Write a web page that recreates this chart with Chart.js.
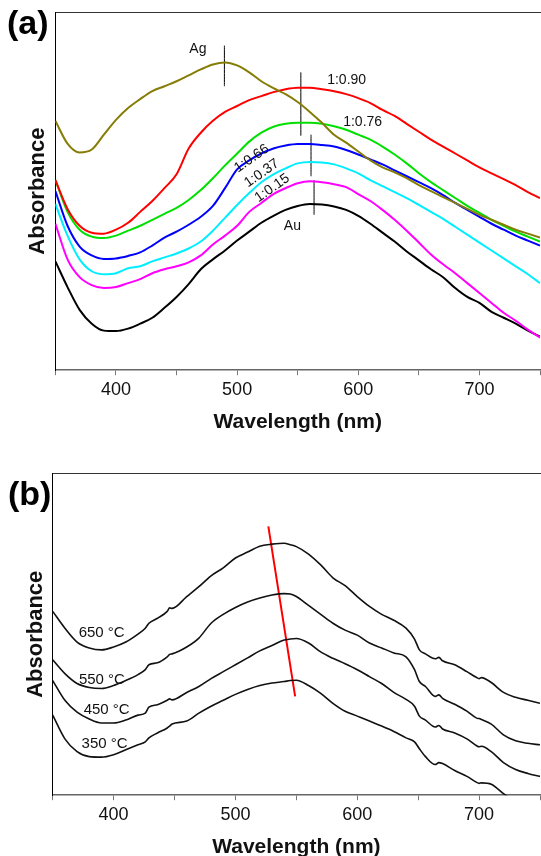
<!DOCTYPE html>
<html>
<head>
<meta charset="utf-8">
<script src="https://cdn.jsdelivr.net/npm/chart.js@4.4.0/dist/chart.umd.min.js"></script>
<style>
  html, body { margin: 0; padding: 0; background: #fff; overflow: hidden; width: 541px; height: 856px; }
  .panel { position: absolute; left: 0; width: 541px; overflow: hidden; }
  #panelA { top: 0; height: 440px; }
  #panelB { top: 450px; height: 406px; }
  .tag { position: absolute; font: bold 34px Arial, "Liberation Sans", sans-serif; line-height: 34px; color: #000; }
</style>
</head>
<body>
<div class="panel" id="panelA"><canvas id="chartA" width="544" height="436"></canvas></div>
<div class="panel" id="panelB"><canvas id="chartB" width="544" height="412"></canvas></div>
<div class="tag" style="left:7px; top:5px;">(a)</div>
<div class="tag" style="left:8px; top:476px;">(b)</div>
<script>
// ---- panel (a): Au/Ag ratio spectra ----
const waveA = [350, 360, 370, 380, 390, 400, 410, 420, 430, 440, 450, 460, 470, 480, 490, 500, 510, 520, 530, 540,
  550, 560, 570, 580, 590, 600, 610, 620, 630, 640, 650, 660, 670, 680, 690, 700, 710, 720, 730, 740, 750];

const agA = [2.52, 2.29, 2.20, 2.23, 2.38, 2.53, 2.65, 2.74, 2.82, 2.87, 2.92, 2.98, 3.04, 3.09, 3.11, 3.08, 3.01, 2.92, 2.85, 2.79,
  2.71, 2.61, 2.50, 2.38, 2.30, 2.21, 2.12, 2.05, 2.00, 1.94, 1.87, 1.81, 1.75, 1.69, 1.63, 1.57, 1.52, 1.47, 1.42, 1.38, 1.34];
const r090A = [1.92, 1.63, 1.46, 1.39, 1.38, 1.42, 1.49, 1.60, 1.71, 1.84, 1.98, 2.24, 2.40, 2.52, 2.61, 2.67, 2.73, 2.77, 2.81, 2.84,
  2.855, 2.855, 2.84, 2.82, 2.79, 2.75, 2.70, 2.63, 2.57, 2.49, 2.41, 2.33, 2.26, 2.19, 2.12, 2.05, 1.99, 1.93, 1.87, 1.80, 1.74];
const r076A = [1.92, 1.60, 1.42, 1.35, 1.335, 1.36, 1.41, 1.46, 1.52, 1.58, 1.64, 1.72, 1.82, 1.94, 2.07, 2.19, 2.31, 2.40, 2.46, 2.49,
  2.50, 2.50, 2.49, 2.465, 2.43, 2.38, 2.33, 2.26, 2.18, 2.09, 1.99, 1.90, 1.82, 1.74, 1.66, 1.59, 1.52, 1.46, 1.40, 1.35, 1.30];
const r066A = [1.81, 1.46, 1.25, 1.16, 1.125, 1.13, 1.155, 1.19, 1.26, 1.34, 1.40, 1.47, 1.55, 1.66, 1.84, 2.03, 2.12, 2.19, 2.24, 2.27,
  2.285, 2.285, 2.275, 2.26, 2.225, 2.18, 2.13, 2.08, 2.02, 1.96, 1.90, 1.84, 1.77, 1.69, 1.62, 1.55, 1.48, 1.42, 1.36, 1.31, 1.26];
const r037A = [1.68, 1.36, 1.12, 1.00, 0.97, 0.98, 1.03, 1.05, 1.10, 1.14, 1.18, 1.23, 1.30, 1.41, 1.54, 1.67, 1.79, 1.90, 1.98, 2.04,
  2.09, 2.105, 2.10, 2.08, 2.04, 1.99, 1.92, 1.86, 1.80, 1.74, 1.67, 1.60, 1.53, 1.45, 1.37, 1.29, 1.21, 1.13, 1.05, 0.97, 0.88];
const r015A = [1.48, 1.12, 0.94, 0.86, 0.83, 0.84, 0.88, 0.92, 0.98, 1.02, 1.05, 1.09, 1.16, 1.27, 1.36, 1.46, 1.60, 1.69, 1.78, 1.84,
  1.89, 1.91, 1.90, 1.88, 1.85, 1.78, 1.71, 1.62, 1.52, 1.41, 1.29, 1.17, 1.07, 0.98, 0.88, 0.78, 0.68, 0.58, 0.50, 0.41, 0.33];
const auA = [1.10, 0.84, 0.61, 0.47, 0.40, 0.395, 0.42, 0.47, 0.53, 0.63, 0.74, 0.87, 1.02, 1.12, 1.21, 1.31, 1.40, 1.49, 1.56, 1.62,
  1.66, 1.68, 1.675, 1.655, 1.62, 1.56, 1.48, 1.39, 1.30, 1.20, 1.11, 1.02, 0.94, 0.83, 0.74, 0.68, 0.59, 0.53, 0.47, 0.40, 0.34];

// peak markers (short vertical bars)
const peakWaveA = [489.5, 552.6, 561, 563.5];
const peakTopA = [3.28, 3.01, 2.38, 1.92];
const peakBottomA = [2.87, 2.37, 1.96, 1.57];

// ---- panel (b): annealing temperature spectra ----
const waveB = [350, 360, 370, 380, 390, 400, 410, 420, 426, 429, 436, 444, 446, 448, 460, 470, 480, 490, 500, 510,
  520, 530, 540, 545, 550, 560, 570, 580, 590, 600, 610, 620, 630, 640, 647, 651, 656, 664, 667, 670,
  680, 690, 698, 700, 702, 710, 720, 730, 740, 750];

const t650B = [1.86, 1.69, 1.55, 1.49, 1.47, 1.50, 1.55, 1.63, 1.69, 1.74, 1.79, 1.86, 1.895, 1.89, 2.01, 2.11, 2.22, 2.30, 2.40, 2.46,
  2.52, 2.54, 2.55, 2.535, 2.515, 2.44, 2.33, 2.20, 2.12, 2.01, 1.91, 1.83, 1.77, 1.69, 1.58, 1.47, 1.43, 1.38, 1.395, 1.36,
  1.32, 1.25, 1.19, 1.18, 1.19, 1.14, 1.04, 0.99, 0.96, 0.93];
const t550B = [1.37, 1.23, 1.13, 1.09, 1.08, 1.11, 1.16, 1.22, 1.27, 1.32, 1.34, 1.40, 1.425, 1.43, 1.50, 1.59, 1.74, 1.83, 1.90, 1.955,
  1.995, 2.025, 2.04, 2.035, 2.01, 1.92, 1.83, 1.74, 1.67, 1.62, 1.54, 1.49, 1.44, 1.40, 1.27, 1.15, 1.10, 1.00, 1.015, 0.98,
  0.92, 0.85, 0.78, 0.775, 0.765, 0.72, 0.61, 0.55, 0.525, 0.51];
const t450B = [1.16, 0.96, 0.84, 0.77, 0.73, 0.73, 0.76, 0.81, 0.83, 0.89, 0.915, 0.96, 0.975, 0.965, 1.04, 1.10, 1.18, 1.25, 1.32, 1.39,
  1.46, 1.515, 1.57, 1.58, 1.585, 1.54, 1.45, 1.385, 1.33, 1.27, 1.20, 1.13, 1.04, 0.97, 0.90, 0.80, 0.76, 0.69, 0.705, 0.67,
  0.63, 0.57, 0.50, 0.49, 0.495, 0.44, 0.33, 0.26, 0.22, 0.19];
const t350B = [0.81, 0.57, 0.44, 0.39, 0.385, 0.41, 0.46, 0.51, 0.54, 0.58, 0.63, 0.68, 0.70, 0.72, 0.75, 0.83, 0.90, 0.96, 1.02, 1.07,
  1.11, 1.135, 1.15, 1.16, 1.163, 1.11, 1.03, 0.93, 0.85, 0.80, 0.75, 0.70, 0.645, 0.58, 0.54, 0.47, 0.39, 0.31, 0.33, 0.32,
  0.25, 0.19, 0.13, 0.12, 0.125, 0.11, 0.015, -0.07, -0.16, -0.25];

// red guide line through the peaks
const shiftWaveB = [527, 549];
const shiftAbsB = [2.72, 1.00];

const FONT = "Arial, 'Liberation Sans', sans-serif";

function pts(xs, ys) {
  return xs.map((x, i) => ({ x: x, y: ys[i] }));
}

function curve(xs, ys, color, width) {
  return {
    data: pts(xs, ys),
    borderColor: color,
    borderWidth: width,
    pointRadius: 0,
    cubicInterpolationMode: "monotone",
    fill: false
  };
}

// plain text labels placed in data coordinates
function labelPlugin(items, font) {
  return {
    id: "labels",
    afterDatasetsDraw(chart) {
      const { ctx, scales: { x, y } } = chart;
      ctx.save();
      ctx.font = font;
      ctx.fillStyle = "#111";
      ctx.textAlign = "center";
      ctx.textBaseline = "middle";
      items.forEach(it => {
        ctx.save();
        ctx.translate(x.getPixelForValue(it.x), y.getPixelForValue(it.y));
        ctx.rotate((it.angle || 0) * Math.PI / 180);
        ctx.fillText(it.text, 0, 0);
        ctx.restore();
      });
      ctx.restore();
    }
  };
}

function baseOptions(yMax, pad) {
  return {
    responsive: false,
    animation: false,
    layout: { padding: pad },
    plugins: { legend: { display: false }, tooltip: { enabled: false } },
    scales: {
      x: {
        type: "linear", min: 350, max: 750,
        ticks: {
          stepSize: 50, autoSkip: false, maxRotation: 0, padding: 4, color: "#111",
          font: { family: FONT, size: 18 },
          callback: v => (v % 100 === 0 && v > 350 && v < 750) ? v : ""
        },
        grid: { display: true, drawOnChartArea: false, drawTicks: true, tickLength: 5, color: "#777" },
        border: { display: true, color: "#666", width: 1.5 },
        title: {
          display: true, text: "Wavelength (nm)", color: "#111",
          font: { family: FONT, size: 21, weight: "bold" }, padding: { top: 5, bottom: 0 }
        }
      },
      xTop: {
        type: "linear", position: "top", min: 350, max: 750,
        ticks: { display: false },
        grid: { display: false, drawTicks: false },
        border: { display: true, color: "#333", width: 1 }
      },
      y: {
        min: 0, max: yMax,
        ticks: { display: false },
        grid: { display: false, drawTicks: false },
        border: { display: true, color: "#000", width: 1 },
        title: {
          display: true, text: "Absorbance", color: "#111",
          font: { family: FONT, size: 22, weight: "bold" }, padding: { top: 4, bottom: 4 }
        }
      }
    }
  };
}

function drawPanelA() {
  const datasets = [
    curve(waveA, agA, "#857d05", 2),
    curve(waveA, r090A, "#ff0000", 2),
    curve(waveA, r076A, "#00e000", 2),
    curve(waveA, r066A, "#0000ff", 2),
    curve(waveA, r037A, "#00eeff", 2),
    curve(waveA, r015A, "#ff00ff", 2),
    curve(waveA, auA, "#000000", 2)
  ];
  peakWaveA.forEach((w, i) => {
    datasets.push(curve([w, w], [peakTopA[i], peakBottomA[i]], "#000", 1));
  });

  const labels = [
    { text: "Ag", x: 467.6, y: 3.24 },
    { text: "1:0.90", x: 590.4, y: 2.93 },
    { text: "1:0.76", x: 603.6, y: 2.51 },
    { text: "1:0.66", x: 512, y: 2.14, angle: -35 },
    { text: "1:0.37", x: 520.3, y: 1.99, angle: -35 },
    { text: "1:0.15", x: 529, y: 1.84, angle: -35 },
    { text: "Au", x: 545.6, y: 1.46 }
  ];

  new Chart(document.getElementById("chartA"), {
    type: "line",
    data: { datasets: datasets },
    options: baseOptions(3.62, { left: 21, top: 12, right: 3.5, bottom: 1 }),
    plugins: [labelPlugin(labels, "14px " + FONT)]
  });
}

function drawPanelB() {
  const datasets = [
    curve(waveB, t650B, "#111", 1.6),
    curve(waveB, t550B, "#111", 1.6),
    curve(waveB, t450B, "#111", 1.6),
    curve(waveB, t350B, "#111", 1.6),
    curve(shiftWaveB, shiftAbsB, "#ff0000", 2)
  ];

  const labels = [
    { text: "650 °C", x: 390.2, y: 1.64 },
    { text: "550 °C", x: 390.4, y: 1.17 },
    { text: "450 °C", x: 394.3, y: 0.86 },
    { text: "350 °C", x: 392.6, y: 0.52 }
  ];

  new Chart(document.getElementById("chartB"), {
    type: "line",
    data: { datasets: datasets },
    options: baseOptions(3.257, { left: 18.3, top: 23.3, right: 0.7, bottom: 2 }),
    plugins: [labelPlugin(labels, "15px " + FONT)]
  });
}

drawPanelA();
drawPanelB();
</script>
</body>
</html>
